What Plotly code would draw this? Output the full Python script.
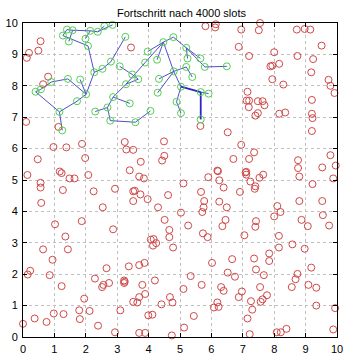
import plotly.graph_objects as go

# Unconnected sensor nodes (red)
red_x = [
    0.56, 0.19, 0.12, 0.49, 3.44, 0.80, 0.64, 0.10, 1.13, 0.97, 1.38, 1.88, 1.98, 0.47,
    3.24, 3.29, 3.51, 3.75, 4.49, 4.50, 4.43, 3.40,
    5.81, 6.14, 6.12, 6.95, 7.55, 7.51, 8.72, 8.97, 9.15, 6.87, 7.20, 8.00, 8.74, 9.24,
    9.51, 7.88, 7.94, 8.16, 9.18, 7.94, 8.29, 9.73, 9.79, 9.92, 7.15, 7.12, 7.20, 7.48,
    7.63, 7.69, 7.19, 7.48, 7.40, 8.16, 8.35, 9.20, 9.20, 9.22, 9.20, 5.65, 6.52, 6.95,
    7.36, 6.70, 7.20, 8.76, 8.76, 9.53, 9.79, 9.96, 6.19, 7.11,
    0.14, 1.17, 1.23, 2.08, 0.56, 0.56, 1.48, 1.64, 1.27, 2.25, 2.93, 3.70, 3.85, 3.51,
    3.56, 3.74, 3.51, 3.97, 4.62, 0.58, 2.54, 4.30, 4.51, 1.87, 1.02, 2.87, 4.66, 4.66,
    1.35, 4.07, 4.16, 4.24, 4.14, 4.78, 0.64, 1.43, 0.94, 0.23, 0.15, 0.85, 2.66, 3.37,
    3.70, 3.87, 2.29, 2.56, 2.52, 2.74, 3.22, 3.24, 3.22, 4.20, 3.80, 1.23, 1.95, 3.89,
    3.70, 3.51, 3.64, 4.41, 4.68, 4.76, 1.79, 2.12, 3.10, 0.98, 1.29, 0.37, 0.75, 1.81,
    0.00, 3.99, 4.12, 2.39, 2.93, 3.70, 3.89, 4.74,
    5.90, 6.21, 6.25, 6.39, 7.09, 7.11, 7.24, 7.40, 7.38, 7.53, 7.65, 8.80, 9.22, 9.88,
    5.11, 5.67, 6.91, 5.77, 6.25, 5.75, 5.71, 6.49, 8.80, 9.53, 5.03, 6.45, 6.35, 7.42,
    7.40, 8.00, 8.10, 8.20, 8.87, 9.07, 9.55, 9.75, 5.26, 5.73, 5.88, 7.05, 8.15, 8.15,
    8.58, 8.97, 6.02, 6.66, 7.36, 7.84, 7.84, 7.42, 6.52, 6.75, 7.67, 5.34, 8.74, 8.68,
    9.18, 5.69, 5.11, 6.31, 6.39, 6.97, 7.55, 8.56, 9.09, 9.34, 6.87, 7.77, 7.26, 7.57,
    7.63, 6.19, 6.23, 6.08, 7.30, 9.34, 9.94, 5.44, 7.15, 5.13, 8.39, 8.08, 8.21, 7.22,
    9.88,
]
red_y = [
    9.42, 9.05, 8.89, 9.12, 9.22, 8.29, 8.05, 6.85, 6.69, 6.05, 6.04, 6.15, 5.70, 5.66,
    6.21, 5.97, 5.96, 5.58, 6.23, 5.77, 5.62, 5.31,
    9.90, 9.96, 9.86, 9.79, 10.00, 9.77, 9.79, 9.81, 9.79, 9.24, 8.95, 9.07, 8.95, 8.85,
    9.28, 8.62, 8.64, 8.70, 8.43, 8.21, 8.04, 8.19, 8.00, 7.77, 7.81, 7.53, 7.53, 7.51,
    7.51, 7.38, 7.32, 7.13, 7.05, 7.11, 7.15, 7.55, 7.11, 6.97, 6.56, 6.72, 6.52, 6.12,
    5.88, 5.67, 5.67, 5.63, 5.38, 5.40, 5.79, 5.46, 5.30, 5.26,
    5.16, 5.27, 5.22, 5.16, 4.91, 4.76, 5.05, 5.05, 4.68, 4.64, 4.72, 5.11, 5.05, 4.64,
    4.66, 4.54, 4.33, 4.39, 4.52, 4.27, 4.13, 4.13, 3.73, 3.69, 3.59, 3.43, 3.41, 3.18,
    3.20, 3.10, 3.12, 2.99, 2.91, 2.85, 2.79, 2.79, 2.46, 2.11, 1.99, 1.97, 2.19, 2.25,
    2.29, 2.36, 1.86, 1.66, 1.59, 1.72, 1.80, 1.76, 1.72, 1.80, 1.66, 1.62, 1.22, 1.37,
    1.27, 1.12, 1.10, 1.04, 1.27, 1.10, 0.85, 0.83, 0.85, 0.75, 0.73, 0.59, 0.48, 0.57,
    0.42, 0.69, 0.71, 0.36, 0.15, 0.13, 0.13, 0.05,
    5.09, 5.28, 4.99, 4.76, 5.24, 5.17, 4.95, 4.80, 4.72, 5.07, 5.17, 5.11, 4.87, 5.05,
    4.89, 4.62, 4.62, 4.33, 4.31, 4.13, 3.98, 4.13, 4.33, 4.33, 3.96, 3.73, 3.53, 3.69,
    3.51, 3.84, 4.17, 3.98, 3.73, 3.53, 3.88, 3.55, 3.55, 3.30, 3.18, 3.24, 3.22, 2.85,
    2.95, 2.81, 2.36, 2.48, 2.50, 2.66, 2.42, 2.15, 2.05, 1.92, 1.97, 1.94, 2.01, 1.84,
    2.21, 1.66, 1.53, 1.59, 1.47, 1.45, 1.59, 1.59, 1.66, 1.57, 1.27, 1.33, 1.14, 1.12,
    1.20, 1.10, 0.96, 0.94, 0.87, 1.00, 0.92, 0.67, 0.59, 0.30, 0.26, 0.15, 0.15, 0.09,
    0.24,
]

# Connected nodes of the growing tree (green)
green_x = [
    1.40, 1.58, 1.27, 1.46, 1.99, 2.14, 2.38, 2.59, 2.85, 2.07, 2.27, 2.53, 2.80, 3.26,
    3.08, 3.48, 3.67, 3.28, 0.40, 0.57, 0.90, 1.43, 1.82, 2.01, 1.72, 1.16, 1.25, 2.30,
    2.69, 2.87, 2.78, 3.40, 3.58, 4.06, 4.47, 3.97, 4.27, 3.89, 4.79, 5.20, 5.65, 5.24,
    5.79, 6.49, 5.20, 4.80, 4.33, 4.29, 5.39, 5.03, 5.66, 5.91, 5.66, 4.89, 5.03,
]
green_y = [
    9.79, 9.77, 9.60, 9.41, 9.50, 9.75, 9.72, 9.90, 9.94, 9.27, 8.43, 8.54, 8.77, 9.56,
    8.62, 8.36, 8.21, 8.05, 7.81, 7.89, 8.12, 8.22, 8.20, 7.73, 7.51, 7.17, 6.58, 7.18,
    7.31, 7.64, 6.89, 7.44, 6.84, 7.20, 9.39, 9.09, 8.83, 8.74, 9.55, 9.21, 8.87, 8.87,
    8.60, 8.62, 8.60, 8.46, 8.22, 7.78, 8.28, 7.97, 7.80, 7.75, 6.93, 7.49, 7.13,
]

# Tree links, as pairs of node indices
edge_from = [0, 1, 5, 6, 7, 2, 3, 4, 2, 9, 10, 11, 12, 10, 23, 23, 24, 25, 18, 18, 19, 20,
             23, 28, 28, 28, 29, 30, 32, 29, 17, 16, 15, 17, 37, 34, 34, 34, 38, 39, 39, 42,
             34, 45, 45, 45, 39, 44, 45, 49, 50, 50, 49, 53]
edge_to = [1, 5, 6, 8, 6, 0, 1, 5, 9, 10, 11, 12, 13, 23, 22, 24, 25, 26, 25, 19, 20, 21,
           21, 27, 29, 30, 31, 32, 33, 17, 16, 15, 14, 37, 34, 35, 36, 38, 39, 40, 41, 43,
           45, 46, 47, 44, 42, 48, 49, 50, 51, 52, 53, 54]
# Links drawn with a heavier stroke
heavy_links = [(49, 50), (50, 52)]

fig = go.Figure()

lx, ly = [], []
for a, b in zip(edge_from, edge_to):
    if (a, b) in heavy_links:
        continue
    lx += [green_x[a], green_x[b], None]
    ly += [green_y[a], green_y[b], None]
fig.add_trace(go.Scatter(x=lx, y=ly, mode="lines",
                         line=dict(color="#5050cc", width=1), hoverinfo="skip"))

hx, hy = [], []
for a, b in heavy_links:
    hx += [green_x[a], green_x[b], None]
    hy += [green_y[a], green_y[b], None]
fig.add_trace(go.Scatter(x=hx, y=hy, mode="lines",
                         line=dict(color="#2828c0", width=1.8), hoverinfo="skip"))

fig.add_trace(go.Scatter(x=red_x, y=red_y, mode="markers", cliponaxis=False,
                         marker=dict(symbol="circle-open", size=7,
                                     color="#d04848", line=dict(width=1))))
fig.add_trace(go.Scatter(x=green_x, y=green_y, mode="markers", cliponaxis=False,
                         marker=dict(symbol="circle-open", size=7,
                                     color="#50d050", line=dict(width=1))))

axis_common = dict(
    range=[0, 10], tickmode="array", tickvals=list(range(11)),
    showgrid=True, gridcolor="#c0c0c0", griddash="dot", gridwidth=1,
    zeroline=False, showline=True, linecolor="black", linewidth=1, mirror="ticks",
    ticks="inside", ticklen=4, tickcolor="black",
    tickfont=dict(family="Liberation Sans, Arial", size=11, color="black"),
)

fig.update_layout(
    width=349, height=361,
    margin=dict(l=21, r=6, t=23, b=14),
    paper_bgcolor="white", plot_bgcolor="white",
    showlegend=False,
    title=dict(text="Fortschritt nach 4000 slots", x=0.52, xanchor="center",
               y=0.975, yanchor="top",
               font=dict(family="Liberation Sans, Arial", size=11, color="black")),
    xaxis=dict(**axis_common, ticklabelstandoff=2),
    yaxis=dict(**axis_common, ticklabelstandoff=2),
)

fig.write_html("out.html")
